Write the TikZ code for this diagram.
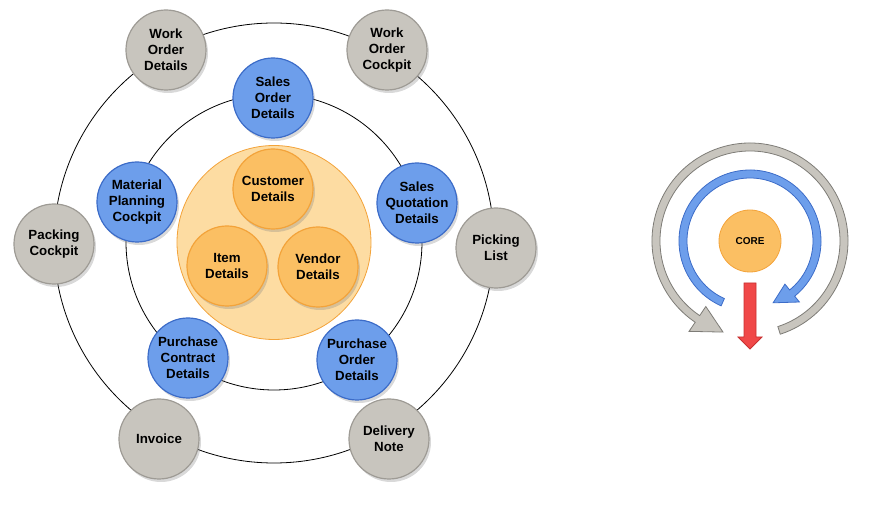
\documentclass[tikz,border=0pt]{standalone}
\usepackage{fontspec}
\setmainfont{Liberation Sans}
\usetikzlibrary{shadows}
\definecolor{grayfill}{HTML}{C8C5BE}
\definecolor{graydraw}{HTML}{9E9B95}
\definecolor{bluefill}{HTML}{6D9EEB}
\definecolor{bluedraw}{HTML}{3C6CC8}
\definecolor{orangefill}{HTML}{FBBF63}
\definecolor{orangedraw}{HTML}{F3A33A}
\definecolor{corefill}{HTML}{FDDCA2}
\definecolor{redfill}{HTML}{F04848}
\definecolor{reddraw}{HTML}{C83030}

\begin{document}
\begin{tikzpicture}[x=1pt,y=1pt,
ring node/.style={circle,minimum size=80pt,inner sep=0pt,align=center,line width=1.2pt,
  font=\fontsize{13.3}{16}\selectfont\bfseries,
  drop shadow={shadow xshift=2pt,shadow yshift=-3pt,opacity=0.3}},
outer node/.style={ring node,draw=graydraw,fill=grayfill},
middle node/.style={ring node,draw=bluedraw,fill=bluefill},
inner node/.style={ring node,draw=orangedraw,fill=orangefill}]

\useasboundingbox (-274,-265) rectangle (613,243);

% rings
\coordinate (hub) at (0,0);
\draw[line width=0.8pt] (hub) circle[radius=220];
\draw[line width=0.8pt] (0,1) circle[radius=148];
\node[circle,minimum size=194pt,fill=corefill,draw=orangedraw,line width=0.8pt] (core) at (0,0.5) {};

% outer ring
\node[outer node] (wod) at (-108,193) {Work\\Order\\Details};
\node[outer node] (woc) at (113,193) {Work\\Order\\Cockpit};
\node[outer node] (pick) at (222,-5) {Picking\\List};
\node[outer node] (dnote) at (115,-196) {Delivery\\Note};
\node[outer node] (inv) at (-115,-196) {Invoice};
\node[outer node] (pack) at (-220,-1) {Packing\\Cockpit};

% middle ring
\node[middle node] (sod) at (-1,145) {Sales\\Order\\Details};
\node[middle node] (sqd) at (143,40) {Sales\\Quotation\\Details};
\node[middle node] (pod) at (83,-117) {Purchase\\Order\\Details};
\node[middle node] (pcd) at (-86,-115) {Purchase\\Contract\\Details};
\node[middle node] (mpc) at (-137,41) {Material\\Planning\\Cockpit};

% core
\node[inner node] (cust) at (-1,54) {Customer\\Details};
\node[inner node] (item) at (-47,-23) {Item\\Details};
\node[inner node] (vend) at (44,-24) {Vendor\\Details};

% legend
\node[circle,minimum size=62pt,fill=orangefill,draw=orangedraw,line width=0.8pt,
  font=\fontsize{10}{12}\selectfont\bfseries] (corelabel) at (476,2) {CORE};
\begin{scope}[shift={(corelabel.center)},line width=0.8pt]
\filldraw[fill=grayfill,draw=graydraw!80!black] (-72:98) arc[start angle=-72,end angle=236,radius=98]
  -- (236:109) -- (253.5:95) -- (236:79) -- (236:90) arc[start angle=236,end angle=-72,radius=90] -- cycle;
\filldraw[fill=bluefill,draw=bluedraw] (246:71) arc[start angle=246,end angle=-51,radius=71]
  -- (-51:78.5) -- (-69.5:66) -- (-51:55.5) -- (-51:63) arc[start angle=-51,end angle=246,radius=63] -- cycle;
\filldraw[fill=redfill,draw=reddraw] (-6,-42) -- (6,-42) -- (6,-96) -- (12,-96) -- (0,-108)
  -- (-12,-96) -- (-6,-96) -- cycle;
\end{scope}

\end{tikzpicture}
\end{document}
